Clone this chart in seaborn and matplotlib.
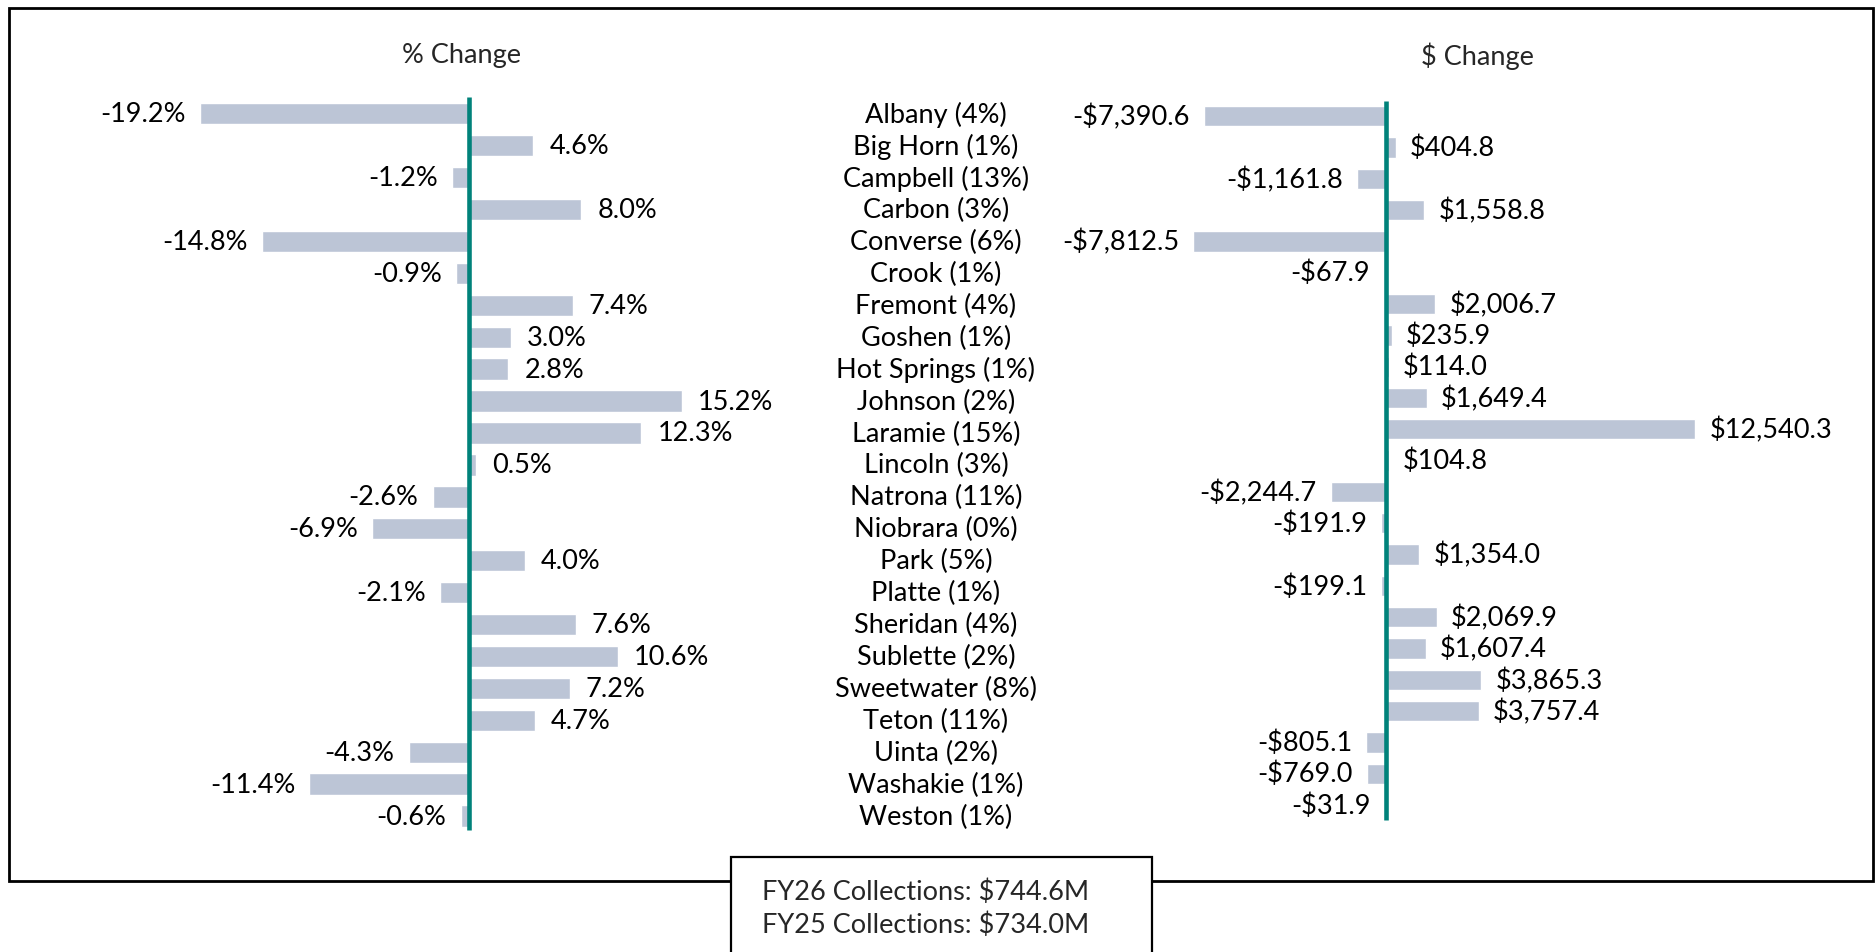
import matplotlib
matplotlib.use("Agg")
import matplotlib.pyplot as plt
import matplotlib.patches as patches
from matplotlib.transforms import blended_transform_factory
import seaborn as sns
import pandas as pd

counties = ["Albany", "Big Horn", "Campbell", "Carbon", "Converse", "Crook", "Fremont",
            "Goshen", "Hot Springs", "Johnson", "Laramie", "Lincoln", "Natrona", "Niobrara",
            "Park", "Platte", "Sheridan", "Sublette", "Sweetwater", "Teton", "Uinta",
            "Washakie", "Weston"]
shares = [4, 1, 13, 3, 6, 1, 4, 1, 1, 2, 15, 3, 11, 0, 5, 1, 4, 2, 8, 11, 2, 1, 1]
pct_change = [-19.2, 4.6, -1.2, 8.0, -14.8, -0.9, 7.4, 3.0, 2.8, 15.2, 12.3, 0.5, -2.6,
              -6.9, 4.0, -2.1, 7.6, 10.6, 7.2, 4.7, -4.3, -11.4, -0.6]
dollar_change = [-7390.6, 404.8, -1161.8, 1558.8, -7812.5, -67.9, 2006.7, 235.9, 114.0,
                 1649.4, 12540.3, 104.8, -2244.7, -191.9, 1354.0, -199.1, 2069.9, 1607.4,
                 3865.3, 3757.4, -805.1, -769.0, -31.9]
titles = ["% Change", "$ Change"]
box_lines = ["FY26 Collections: $744.6M", "FY25 Collections: $734.0M"]

labels = [f"{c} ({s}%)" for c, s in zip(counties, shares)]
df = pd.DataFrame({"label": labels, "pct": pct_change, "dollar": dollar_change})

sns.set_theme(style="white")
plt.rcParams["font.family"] = ["Lato", "DejaVu Sans"]
FS = 19.5
BAR = "#BCC5D6"
TEAL = "#00827A"

W, H = 1875, 953
fig = plt.figure(figsize=(W / 100, H / 100), dpi=100)
fig.patch.set_facecolor("white")

mid = 937
axL = fig.add_axes([0, 0, mid / W, 1])
axR = fig.add_axes([mid / W, 0, (W - mid) / W, 1])

n = len(labels)

sns.barplot(data=df, x="pct", y="label", orient="h", color=BAR, saturation=1,
            width=0.67, ax=axL)
sns.barplot(data=df, x="dollar", y="label", orient="h", color=BAR, saturation=1,
            width=0.65, ax=axR)

sL = 14.02
axL.set_xlim(-469 / sL, (mid - 469) / sL)
sR = 0.02466
axR.set_xlim((mid - 1386) / sR, (W - 1386) / sR)

# row layout (pixels from top): left and right panels differ slightly
topL, stepL = 114.8, 31.92
topR, stepR = 117.2, 31.31
axL.set_ylim((H - topL) / stepL, -topL / stepL)
axR.set_ylim((H - topR) / stepR, -topR / stepR)

for ax, top, step, y0, y1 in ((axL, topL, stepL, 98, 831), (axR, topR, stepR, 101.7, 820.5)):
    ax.axis("off")
    ax.plot([0, 0], [(y0 - top) / step, (y1 - top) / step], color=TEAL, lw=3.3,
            solid_capstyle="butt", zorder=5)

gap = 14
for i, v in enumerate(pct_change):
    txt = f"{v:.1f}%"
    if v < 0:
        axL.annotate(txt, (v, i), xytext=(-gap, 0), textcoords="offset pixels",
                     ha="right", va="center", fontsize=FS, color="black")
    else:
        axL.annotate(txt, (v, i), xytext=(gap + 2, 0), textcoords="offset pixels",
                     ha="left", va="center", fontsize=FS, color="black")

for i, v in enumerate(dollar_change):
    if v < 0:
        txt = f"-${abs(v):,.1f}"
        axR.annotate(txt, (v, i), xytext=(-gap, 0), textcoords="offset pixels",
                     ha="right", va="center", fontsize=FS, color="black")
    else:
        txt = f"${v:,.1f}"
        axR.annotate(txt, (v, i), xytext=(gap, 0), textcoords="offset pixels",
                     ha="left", va="center", fontsize=FS, color="black")

tr = blended_transform_factory(fig.transFigure, axL.transData)
for i, lab in enumerate(labels):
    axL.text(936 / W, i, lab, transform=tr, ha="center", va="center", fontsize=FS,
             color="black", clip_on=False)

fig.text(462 / W, 1 - 56 / H, titles[0], ha="center", va="center", fontsize=FS)
fig.text(1477 / W, 1 - 56 / H, titles[1], ha="center", va="center", fontsize=FS)

fig.patches.append(patches.Rectangle((9 / W, 1 - 882 / H), (1873 - 9) / W, (882 - 9) / H,
                                     transform=fig.transFigure, fill=False,
                                     edgecolor="black", lw=2.0, zorder=10))
fig.patches.append(patches.Rectangle((731 / W, 1 - 980 / H), (1152 - 731) / W, (980 - 858) / H,
                                     transform=fig.transFigure, facecolor="white",
                                     edgecolor="black", lw=1.6, zorder=11))
fig.text(762 / W, 1 - 892 / H, box_lines[0], ha="left", va="center", fontsize=FS, zorder=12)
fig.text(762 / W, 1 - 925 / H, box_lines[1], ha="left", va="center", fontsize=FS, zorder=12)

fig.savefig("out.png", dpi=100, facecolor="white")
